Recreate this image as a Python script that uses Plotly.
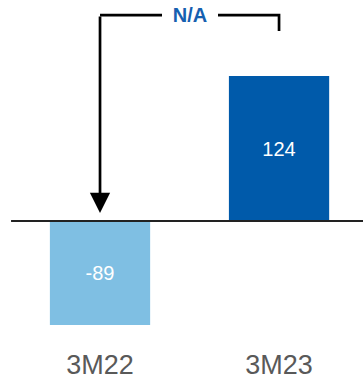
import plotly.graph_objects as go

categories = ["3M22", "3M23"]
values = [-89, 124]
bar_colors = ["#7fbfe3", "#005aaa"]
bracket_label = "N/A"

px_per_unit = 145 / 124.0
y_top = 221 / px_per_unit
y_bot = -(346 - 221) / px_per_unit

fig = go.Figure()
fig.add_trace(go.Bar(
    x=categories, y=values,
    marker=dict(color=bar_colors, line=dict(width=0)),
    width=0.56,
    text=[str(v) for v in values],
    textposition="inside", insidetextanchor="middle",
    textfont=dict(color="white", size=20, family="Liberation Sans, Arial, sans-serif"),
    hoverinfo="skip",
))

ytop = max(values) * 1.42
tip = max(values) * 0.055
yr = max(values) * 1.31

fig.add_shape(type="line", xref="x", yref="y", x0=-0.497, x1=1.48, y0=0, y1=0,
              line=dict(color="#222222", width=2), layer="above")
fig.add_shape(type="path", xref="x", yref="y",
              path=f"M 0,{ytop} L 1,{ytop} L 1,{yr}",
              line=dict(color="black", width=2.7))
fig.add_annotation(x=0, y=tip, ax=0, ay=ytop, xref="x", yref="y", axref="x", ayref="y",
                   text="", showarrow=True, arrowhead=2, arrowsize=1.5, arrowwidth=2.7,
                   arrowcolor="black", standoff=0)
fig.add_annotation(x=0.5, y=ytop, xref="x", yref="y", text=f"<b>{bracket_label}</b>",
                   showarrow=False, bgcolor="white", borderpad=2, borderwidth=0,
                   width=52,
                   font=dict(color="#1660b0", size=20, family="Liberation Sans, Arial, sans-serif"))

fig.update_layout(
    width=363, height=381,
    margin=dict(l=0, r=0, t=0, b=35),
    plot_bgcolor="white", paper_bgcolor="white",
    showlegend=False,
    xaxis=dict(range=[-0.5587, 1.469], showgrid=False, zeroline=False, showline=False,
               ticks="", tickfont=dict(size=27, color="#595959",
                                        family="Liberation Sans, Arial, sans-serif")),
    yaxis=dict(range=[y_bot, y_top], visible=False, showgrid=False, zeroline=False),
)

fig.write_html("out.html")
